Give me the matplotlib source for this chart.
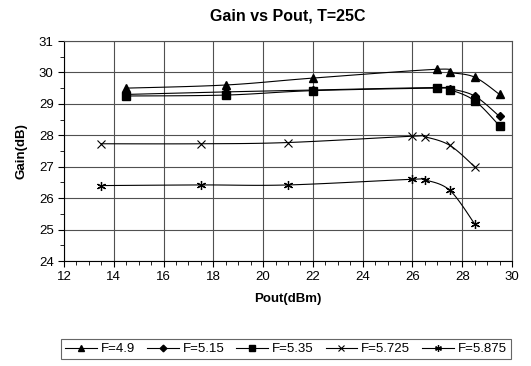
import numpy as np
import matplotlib.pyplot as plt
from matplotlib.ticker import MultipleLocator
from matplotlib.lines import Line2D

plt.rcParams['font.family'] = ['Liberation Sans', 'DejaVu Sans']

# data
pout_a = [14.5, 18.5, 22, 27, 27.5, 28.5, 29.5]
pout_b = [13.5, 17.5, 21, 26, 26.5, 27.5, 28.5]
g_490 = [29.5, 29.6, 29.82, 30.1, 30.0, 29.85, 29.3]
g_515 = [29.3, 29.38, 29.44, 29.52, 29.48, 29.25, 28.6]
g_535 = [29.25, 29.28, 29.42, 29.5, 29.45, 29.1, 28.3]
g_5725 = [27.73, 27.73, 27.77, 27.97, 27.95, 27.68, 27.0]
g_5875 = [26.4, 26.42, 26.42, 26.6, 26.58, 26.25, 25.18]
labels = ['F=4.9', 'F=5.15', 'F=5.35', 'F=5.725', 'F=5.875']
markers = ['^', 'D', 's', 'x', (6, 2, 0)]
msizes = [6, 4.5, 6, 5.5, 6.5]
mews = [1, 1, 1, 0.8, 0.9]


def smooth(x, y, n=20):
    # bezier curve through the points (like Excel smoothed lines)
    x = np.asarray(x, float)
    y = np.asarray(y, float)
    px = np.concatenate([[x[0]], x, [x[-1]]])
    py = np.concatenate([[y[0]], y, [y[-1]]])
    xs, ys = [], []
    t = np.linspace(0, 1, n)
    for i in range(1, len(px) - 2):
        p0, p1, p2, p3 = px[i - 1], px[i], px[i + 1], px[i + 2]
        q0, q1, q2, q3 = py[i - 1], py[i], py[i + 1], py[i + 2]
        b1x, b1y = p1 + (p2 - p0) / 6, q1 + (q2 - q0) / 6
        b2x, b2y = p2 - (p3 - p1) / 6, q2 - (q3 - q1) / 6
        xs.append((1-t)**3*p1 + 3*(1-t)**2*t*b1x + 3*(1-t)*t**2*b2x + t**3*p2)
        ys.append((1-t)**3*q1 + 3*(1-t)**2*t*b1y + 3*(1-t)*t**2*b2y + t**3*q2)
    return np.concatenate(xs), np.concatenate(ys)


fig = plt.figure(figsize=(5.31, 3.66), dpi=100)
ax = fig.add_axes([64/531, 1 - 261/366, 448/531, 220/366])

series = [(pout_a, g_490), (pout_a, g_515), (pout_a, g_535),
          (pout_b, g_5725), (pout_b, g_5875)]
handles = []
for (xv, yv), mk, ms, mw in zip(series, markers, msizes, mews):
    sx, sy = smooth(xv, yv)
    ax.plot(sx, sy, color='black', lw=0.8)
    ax.plot(xv, yv, ls='none', marker=mk, ms=ms, color='black', mew=mw)
    handles.append(Line2D([], [], color='black', lw=0.8, marker=mk,
                          ms=ms * 0.75, mew=mw))

ax.set_xlim(12, 30)
ax.set_ylim(24, 31)
ax.xaxis.set_major_locator(MultipleLocator(2))
ax.xaxis.set_minor_locator(MultipleLocator(0.5))
ax.yaxis.set_major_locator(MultipleLocator(1))
ax.yaxis.set_minor_locator(MultipleLocator(0.5))
ax.grid(True, which='major', color='#505050', lw=0.8)
ax.set_axisbelow(True)
ax.tick_params(which='both', direction='out', labelsize=9.5, color='black')
ax.tick_params(which='major', length=4)
ax.tick_params(which='minor', length=3)
for s in ax.spines.values():
    s.set_color('#505050')
ax.spines['left'].set_color('black')
ax.spines['bottom'].set_color('black')

ax.set_title('Gain vs Pout, T=25C', fontsize=11.5, fontweight='bold', pad=15)
ax.set_xlabel('Pout(dBm)', fontsize=9.5, fontweight='bold', labelpad=7)
ax.set_ylabel('Gain(dB)', fontsize=9.5, fontweight='bold', labelpad=8)

leg = fig.legend(handles, labels, loc='center',
                 bbox_to_anchor=(286/531, 1 - 349/366), ncol=5,
                 fontsize=9.5, frameon=True, fancybox=False, edgecolor='#404040',
                 handlelength=2.4, handletextpad=0.3, columnspacing=0.9,
                 borderpad=0.3)
leg.get_frame().set_linewidth(0.8)

fig.savefig('out.png', dpi=100)
